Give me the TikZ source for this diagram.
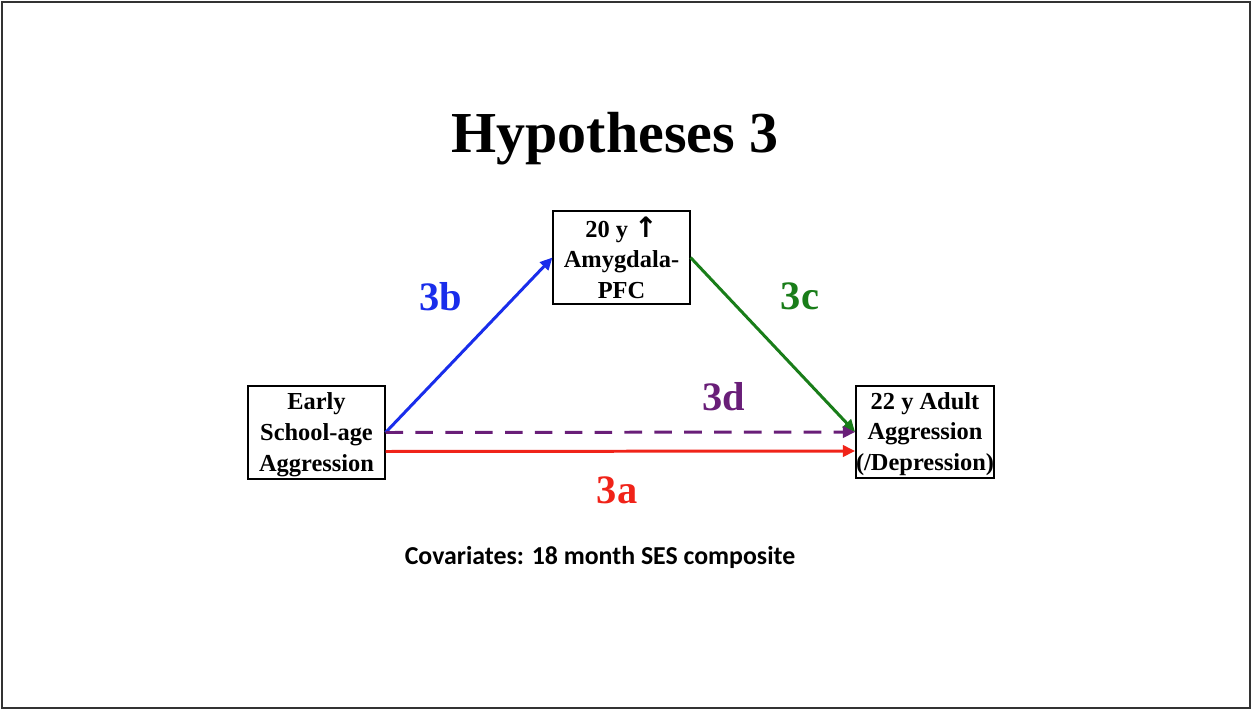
\documentclass[tikz,border=0pt]{standalone}
\usepackage{fontspec}
\setmainfont{Liberation Serif}
\newfontfamily\covfont{Carlito}
\newfontfamily\symfont{DejaVu Sans}
\usetikzlibrary{arrows.meta}
\definecolor{pathblue}{RGB}{25,45,235}
\definecolor{pathgreen}{RGB}{25,125,25}
\definecolor{pathpurple}{RGB}{105,30,120}
\definecolor{pathred}{RGB}{240,35,25}
\tikzset{
  varbox/.style={draw,line width=1.1pt,minimum width=77.5pt,minimum height=52.5pt,
    inner sep=0pt,align=center,font=\fontsize{13.9}{17.6}\selectfont\bfseries},
  pathlab/.style={font=\fontsize{23}{26}\selectfont\bfseries},
  patharr/.style={line width=1.7pt,-{Triangle[length=7pt,width=6.5pt]}}
}
\begin{document}
\begin{tikzpicture}[x=0.02cm,y=-0.02cm]
\useasboundingbox (0,0) rectangle (1252,710);
\draw[line width=1.2pt,black!80] (2,2) rectangle (1250,708);
\node[font=\fontsize{33}{38}\selectfont\bfseries] (title) at (615,139) {Hypotheses 3};
\node[varbox] (amyg) at (621.5,257.5) {\rule{0pt}{12pt}20 y {\symfont\bfseries\fontsize{16}{17.6}\selectfont ↑}\\Amygdala-\\PFC};
\node[varbox] (early) at (316.5,432.5) {\rule{0pt}{12pt}Early\\School-age\\Aggression};
\node[varbox] (adult) at (925,432) {\rule{0pt}{12pt}22 y Adult\\Aggression\\(/Depression)};
% paths
\draw[patharr,pathblue] (early.east) -- (amyg.west);
\draw[patharr,pathgreen] (amyg.east) -- (adult.west);
\draw[patharr,pathpurple,dashed,dash pattern=on 10pt off 7pt] (early.east) -- (adult.west);
\draw[patharr,pathred] ([yshift=-0.38cm]early.east) -- ([yshift=-0.38cm]adult.west);
\node[pathlab,pathblue] (lb) at (441,297) {3b};
\node[pathlab,pathgreen] (lc) at (800,296) {3c};
\node[pathlab,pathpurple] (ld) at (724,397) {3d};
\node[pathlab,pathred] (la) at (617,490) {3a};
\node[font=\fontsize{14.7}{17}\selectfont\covfont\bfseries] (cov) at (600,557) {Covariates: 18 month SES composite};
\end{tikzpicture}
\end{document}
